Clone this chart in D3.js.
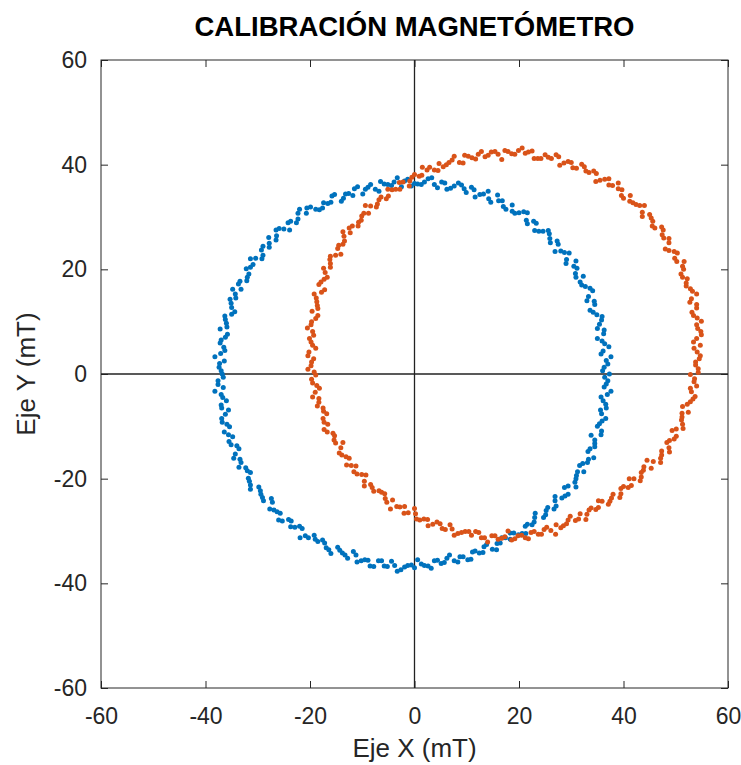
<!DOCTYPE html>
<html>
<head>
<meta charset="utf-8">
<title>Calibración magnetómetro</title>
<script src="https://d3js.org/d3.v7.min.js"></script>
<style>
	body { margin: 0; background: #fff; }
	text { font-family: 'Liberation Sans', Arial, sans-serif; }
</style>
</head>
<body>
<div id="chart"></div>
<script>
// ticks
var xTicks = [-60, -40, -20, 0, 20, 40, 60];
var yTicks = [-60, -40, -20, 0, 20, 40, 60];

// raw magnetometer readings (blue) - x, y in mT
var rawX = [37.3,36.3,36.7,35.7,37.2,35.9,36.2,35.0,35.8,34.9,33.6,34.4,33.3,33.6,32.0,32.3,30.8,30.5,29.0,29.6,28.0,27.5,26.0,25.8,24.6,23.0,22.8,21.4,20.9,19.2,18.7,17.0,16.1,14.6,14.1,12.5,11.4,9.9,9.0,7.6,6.2,5.2,3.8,2.6,1.3,
	0.0,-1.3,-2.5,-3.9,-5.1,-6.5,-7.5,-8.9,-9.9,-11.5,-12.6,-13.6,-15.3,-16.0,-17.4,-18.2,-19.9,-20.7,-22.3,-22.6,-24.2,-25.0,-26.5,-26.5,-27.8,-29.0,-29.0,-30.4,-30.9,-32.2,-32.0,-33.4,-33.2,-34.3,-35.3,-35.0,-35.0,-36.2,-35.9,-35.8,-37.0,-36.5,-37.1,-36.4,-37.4,
	-36.8,-37.6,-36.6,-37.0,-36.0,-36.9,-36.2,-36.8,-35.4,-35.6,-35.5,-34.0,-34.3,-33.4,-33.6,-32.0,-31.8,-31.4,-29.8,-29.4,-28.9,-27.2,-26.9,-25.7,-25.3,-23.6,-22.9,-21.5,-20.9,-19.2,-18.5,-17.2,-16.4,-14.7,-13.8,-12.8,-11.2,-10.2,-8.9,-7.8,-6.3,-5.2,-3.8,-2.6,-1.3,
	0.0,1.3,2.6,3.8,5.1,6.2,7.6,8.7,10.2,11.1,12.4,13.3,14.9,15.8,16.7,18.3,19.0,20.6,21.2,22.5,23.0,24.7,25.2,26.7,26.9,28.2,29.4,29.4,30.7,31.0,32.4,32.2,33.3,33.2,34.5,34.5,35.7,35.0,35.9,35.8,36.7,36.1,36.9,36.3,37.0];
var rawY = [0.0,1.3,2.6,3.8,5.2,6.3,7.7,8.7,10.3,11.3,12.2,13.9,14.8,16.4,17.0,18.7,19.2,20.6,21.1,23.1,23.5,24.8,25.1,26.8,27.3,27.4,29.2,29.4,31.0,30.7,32.3,32.0,33.1,32.8,34.9,34.3,35.2,34.7,36.1,35.9,35.3,36.7,36.2,37.3,36.2,
	36.4,37.2,35.8,36.7,36.2,36.8,35.3,35.7,34.4,35.4,34.5,33.6,34.3,32.8,32.7,31.4,31.9,30.7,30.7,28.9,28.9,27.7,27.5,25.6,25.0,24.4,22.7,22.1,20.9,20.1,18.5,17.7,16.2,15.3,14.3,12.7,11.4,10.4,9.0,7.6,6.5,5.1,3.9,2.5,1.3,
	0.0,-1.3,-2.6,-3.9,-5.1,-6.5,-7.7,-9.2,-10.1,-11.6,-12.9,-13.7,-15.3,-16.3,-17.8,-18.5,-19.9,-21.2,-21.6,-23.0,-24.2,-24.5,-26.0,-26.6,-28.1,-28.1,-29.3,-29.5,-30.9,-30.8,-32.0,-32.3,-33.6,-33.1,-34.2,-35.2,-34.6,-35.7,-35.6,-36.8,-35.7,-36.8,-36.6,-37.4,-36.6,
	-37.0,-36.3,-36.7,-35.7,-36.2,-35.2,-35.7,-34.9,-35.5,-34.0,-34.2,-33.0,-33.5,-32.4,-31.3,-31.6,-30.4,-30.5,-29.1,-28.8,-27.4,-27.4,-26.1,-25.8,-24.2,-23.7,-23.0,-21.4,-20.7,-19.4,-18.7,-17.1,-16.3,-14.8,-13.9,-12.6,-11.6,-10.0,-9.0,-7.6,-6.5,-5.1,-3.9,-2.5,-1.3];
// second batch of raw readings
var rawX2 = [36.0,37.0,37.6,36.1,36.4,35.0,36.3,35.4,35.9,34.2,34.5,33.0,34.1,32.7,31.7,30.9,31.1,30.9,29.1,28.7,26.9,27.3,25.9,25.6,23.8,23.3,21.6,21.6,20.0,18.7,17.5,16.8,15.9,14.2,13.2,11.6,10.9,9.5,8.4,6.9,5.8,4.4,3.3,1.9,0.6,
	-0.6,-1.9,-3.3,-4.4,-5.8,-6.8,-8.4,-9.4,-10.9,-11.8,-13.2,-14.0,-15.8,-16.6,-17.6,-18.9,-20.6,-22.0,-22.3,-23.7,-23.9,-25.9,-26.4,-27.9,-27.8,-29.3,-29.2,-31.4,-31.4,-31.7,-32.1,-33.7,-34.8,-34.2,-35.1,-34.4,-36.3,-36.0,-37.2,-36.2,-37.2,-36.3,-38.2,-37.3,-37.0,
	-36.6,-37.6,-38.2,-36.7,-37.0,-35.6,-36.9,-35.9,-36.4,-34.8,-35.1,-33.6,-34.6,-33.2,-32.3,-31.4,-31.6,-31.4,-29.5,-29.1,-27.4,-27.7,-26.3,-26.0,-24.1,-23.7,-22.0,-21.9,-20.3,-19.0,-17.6,-16.9,-16.0,-14.3,-13.3,-11.7,-11.0,-9.5,-8.5,-6.9,-5.8,-4.4,-3.3,-1.9,-0.6,
	0.6,1.9,3.2,4.4,5.7,6.7,8.3,9.3,10.8,11.6,13.1,13.8,15.7,16.4,17.4,18.3,19.9,21.3,21.6,22.9,23.1,25.1,25.5,27.1,26.9,28.8,28.7,30.9,30.9,31.2,31.6,33.1,34.3,33.6,34.5,33.8,35.8,35.4,36.6,35.6,36.6,35.7,37.6,36.7,36.4];
var rawY2 = [0.6,1.9,3.3,4.4,5.8,6.8,8.4,9.5,11.0,11.8,13.3,14.0,15.9,16.7,17.6,18.5,20.2,21.6,21.9,23.2,23.4,25.4,25.9,27.4,27.3,28.8,28.7,30.8,30.8,31.1,31.5,33.1,34.2,33.5,34.4,33.8,35.7,35.4,36.5,35.5,36.5,35.6,37.5,36.7,36.3,
	35.9,36.9,37.5,36.0,36.3,34.9,36.2,35.3,35.8,34.1,34.4,33.0,34.0,32.6,31.7,31.5,31.7,31.5,29.6,29.2,27.5,27.8,26.4,26.1,24.2,23.7,22.0,22.0,20.4,19.1,17.8,17.2,16.2,14.5,13.5,11.9,11.1,9.7,8.6,7.0,5.9,4.5,3.3,2.0,0.6,
	-0.6,-2.0,-3.3,-4.5,-5.9,-6.9,-8.5,-9.6,-11.1,-12.0,-13.5,-14.3,-16.1,-16.9,-17.9,-18.8,-20.5,-22.0,-22.3,-23.6,-23.8,-25.8,-26.3,-27.9,-27.8,-29.2,-29.1,-31.3,-31.3,-31.6,-31.7,-33.2,-34.3,-33.7,-34.6,-33.9,-35.9,-35.5,-36.7,-35.7,-36.7,-35.8,-37.7,-36.9,-36.5,
	-35.5,-36.6,-37.1,-35.6,-36.0,-34.6,-35.9,-34.9,-35.4,-33.8,-34.1,-32.6,-33.6,-32.3,-31.3,-30.4,-30.7,-30.5,-28.7,-28.3,-26.6,-26.9,-25.5,-25.2,-23.4,-23.3,-21.7,-21.6,-20.0,-18.7,-17.5,-16.9,-16.0,-14.3,-13.3,-11.7,-10.9,-9.5,-8.5,-6.9,-5.8,-4.4,-3.3,-1.9,-0.6];

// readings with hard-iron offset (orange)
var offX = [54.7,54.0,54.8,54.0,54.1,53.1,54.0,53.0,53.2,52.0,52.2,51.0,51.3,50.2,50.3,48.7,48.7,47.7,47.6,46.0,45.6,45.0,43.6,43.1,41.8,41.3,39.6,39.0,37.9,37.2,35.5,34.8,33.4,32.5,31.0,30.0,28.6,27.6,26.2,25.0,23.6,22.5,21.2,19.9,18.6,
	17.3,16.0,14.7,13.5,12.2,11.0,9.6,8.6,7.2,6.1,4.7,3.8,2.4,1.4,0.0,-0.9,-2.2,-2.8,-4.3,-5.0,-6.4,-7.1,-8.4,-8.8,-10.1,-10.7,-11.9,-12.3,-13.5,-13.7,-14.7,-15.1,-16.2,-16.1,-17.1,-17.3,-18.3,-17.8,-18.8,-18.6,-19.6,-18.9,-19.8,-19.5,-20.1,
	-19.5,-20.2,-19.3,-19.8,-19.2,-19.7,-18.7,-19.0,-18.3,-18.6,-17.4,-17.5,-16.6,-16.7,-15.3,-15.1,-14.1,-13.9,-12.5,-12.1,-11.6,-10.1,-9.6,-8.4,-7.8,-6.3,-5.6,-4.2,-3.4,-1.9,-1.2,0.2,1.0,2.5,3.5,4.9,5.9,7.2,8.3,9.7,10.9,12.3,13.4,14.8,16.0,
	17.3,18.6,19.8,21.2,22.3,23.7,24.8,26.1,27.1,28.5,29.4,30.8,31.7,33.0,33.8,35.2,35.9,37.4,38.0,39.5,40.0,41.5,42.0,43.4,43.8,45.3,45.7,47.1,47.3,48.7,48.8,50.1,50.1,51.3,51.2,52.4,52.2,53.3,53.0,54.0,53.6,54.3,53.8,54.5,54.1];
var offY = [5.5,6.8,8.1,9.4,10.7,11.8,13.3,14.4,15.8,16.8,18.2,19.1,20.6,21.5,23.1,23.6,25.1,26.0,27.5,27.9,29.2,30.5,30.9,32.2,32.7,34.1,34.1,35.4,36.0,37.3,37.0,38.3,38.5,39.6,39.3,40.4,40.3,41.5,41.2,41.9,41.2,42.6,42.2,42.7,42.1,
	42.7,42.0,42.4,41.5,42.0,41.3,41.8,40.4,40.9,40.0,40.2,39.0,39.0,38.0,38.1,36.9,36.7,35.3,35.2,34.0,33.8,32.5,32.1,30.7,30.2,29.0,28.3,27.0,26.3,24.8,24.0,22.7,21.9,20.4,19.4,18.1,17.1,15.6,14.5,13.1,12.0,10.6,9.4,8.1,6.8,
	5.5,4.2,2.9,1.6,0.4,-1.0,-2.2,-3.5,-4.7,-6.1,-7.1,-8.5,-9.6,-11.1,-11.8,-13.2,-14.1,-15.5,-16.1,-17.5,-18.7,-19.2,-20.5,-21.1,-22.4,-22.6,-23.8,-24.1,-25.3,-25.3,-26.5,-26.7,-27.9,-27.8,-28.7,-28.6,-29.7,-29.6,-30.5,-30.1,-30.8,-30.3,-31.3,-30.9,-31.6,
	-31.1,-31.7,-30.9,-31.3,-30.3,-30.6,-29.7,-29.9,-28.8,-29.0,-27.9,-28.0,-26.7,-26.8,-25.6,-25.5,-24.3,-24.3,-23.0,-22.9,-21.5,-21.3,-20.0,-19.7,-18.4,-18.0,-16.7,-16.1,-14.7,-14.1,-12.7,-11.9,-10.5,-9.6,-8.2,-7.3,-5.8,-4.8,-3.4,-2.3,-0.9,0.3,1.7,2.9,4.2];
// second batch of offset readings
var offX2 = [53.4,54.9,54.2,54.9,53.4,54.0,52.7,54.0,52.8,52.0,51.3,51.5,51.6,49.8,49.7,48.0,48.7,47.4,47.3,45.5,45.3,43.6,44.0,42.4,41.2,40.0,39.7,39.0,37.2,36.4,34.7,34.3,32.8,32.0,30.3,29.4,27.8,27.1,25.6,24.2,22.9,21.8,20.6,19.2,17.9,
	16.7,15.4,14.1,12.8,11.7,10.3,9.3,7.6,6.6,5.5,4.5,2.9,1.5,0.9,-0.5,-1.0,-2.9,-3.6,-5.1,-5.4,-6.8,-7.3,-9.4,-9.7,-10.2,-10.8,-12.5,-13.7,-13.4,-14.5,-14.1,-16.1,-16.1,-17.4,-16.7,-17.9,-17.2,-19.2,-18.7,-18.5,-18.5,-19.7,-20.5,-19.3,-19.8,
	-18.9,-20.4,-19.7,-20.4,-18.9,-19.5,-18.2,-19.5,-18.3,-17.5,-16.8,-17.3,-17.3,-15.6,-15.4,-13.7,-14.4,-13.1,-13.0,-11.2,-11.0,-9.3,-9.6,-8.1,-6.8,-5.7,-5.3,-4.6,-2.8,-2.0,0.0,0.4,1.8,2.6,4.3,5.3,6.8,7.6,9.0,10.4,11.7,12.8,14.0,15.4,16.7,
	17.9,19.2,20.5,21.8,22.9,24.3,25.3,27.0,28.0,29.1,29.8,31.4,32.8,33.4,34.7,35.2,37.1,37.7,39.3,39.5,40.9,41.1,43.2,43.4,43.9,44.5,47.1,47.3,48.8,48.3,49.7,49.3,51.4,51.1,51.2,51.3,52.8,53.7,52.8,53.5,52.8,54.3,53.8,54.7,53.5];
var offY2 = [6.1,7.5,8.7,10.1,11.2,12.6,13.7,15.3,16.3,17.4,18.5,20.0,21.5,22.1,23.4,23.9,25.9,26.6,28.1,28.3,29.8,30.1,32.2,32.4,33.0,33.6,35.2,36.5,36.1,37.2,36.8,38.8,38.8,40.1,39.4,40.6,39.9,41.9,41.4,41.2,41.2,42.4,43.2,42.0,42.5,
	41.0,42.5,41.8,42.5,41.1,41.6,40.3,41.6,40.4,39.6,38.9,39.5,39.5,37.8,37.6,35.9,36.6,35.3,35.3,33.5,33.3,31.9,32.2,30.7,29.4,28.3,27.9,27.2,25.4,24.6,22.9,22.5,21.1,20.2,18.5,17.6,16.1,15.3,13.8,12.5,11.2,10.0,8.8,7.4,6.1,
	4.9,3.5,2.3,0.9,-0.2,-1.7,-2.7,-4.4,-5.4,-6.5,-7.6,-9.2,-10.6,-11.3,-12.6,-13.1,-15.1,-15.8,-17.4,-17.6,-19.1,-19.3,-21.4,-21.7,-22.3,-22.9,-24.5,-25.8,-25.4,-26.6,-25.7,-27.7,-27.7,-29.0,-28.3,-29.5,-28.8,-30.8,-30.3,-30.1,-30.1,-31.3,-32.1,-30.9,-31.4,
	-30.0,-31.5,-30.8,-31.5,-30.1,-30.6,-29.3,-30.6,-29.4,-28.6,-27.2,-27.7,-27.8,-26.0,-25.9,-24.2,-24.9,-23.7,-23.6,-21.9,-21.7,-20.0,-20.4,-18.8,-17.7,-16.5,-16.9,-15.5,-14.9,-13.1,-12.4,-10.8,-10.4,-8.8,-7.5,-6.2,-5.3,-4.3,-2.7,-1.5,-0.1,1.0,2.3,3.5,4.9];

var width = 741, height = 765;
var mLeft = 101, mRight = 728, mTop = 60, mBottom = 688;

var svg = d3.select("#chart").append("svg")
	.attr("width", width)
	.attr("height", height);

var x = d3.scaleLinear().domain([-60, 60]).range([mLeft, mRight]);
var y = d3.scaleLinear().domain([-60, 60]).range([mBottom, mTop]);

// plain hyphen for negative numbers, like the original
var fmt = function(d) { return String(d); };

function styleAxis(g) {
	g.select(".domain").remove();
	g.selectAll(".tick line").attr("stroke", "#262626");
	g.selectAll(".tick text").attr("font-size", 23).attr("fill", "#262626");
}

// ticks pointing inwards on all four sides
svg.append("g").attr("transform", "translate(0," + mBottom + ")")
	.call(d3.axisBottom(x).tickValues(xTicks).tickSizeInner(-7).tickSizeOuter(0).tickPadding(20).tickFormat(fmt))
	.call(styleAxis);
svg.append("g").attr("transform", "translate(" + mLeft + ",0)")
	.call(d3.axisLeft(y).tickValues(yTicks).tickSizeInner(-7).tickSizeOuter(0).tickPadding(14).tickFormat(fmt))
	.call(styleAxis);
svg.append("g").attr("transform", "translate(0," + mTop + ")")
	.call(d3.axisTop(x).tickValues(xTicks).tickSizeInner(-7).tickSizeOuter(0).tickFormat(""))
	.call(styleAxis);
svg.append("g").attr("transform", "translate(" + mRight + ",0)")
	.call(d3.axisRight(y).tickValues(yTicks).tickSizeInner(-7).tickSizeOuter(0).tickFormat(""))
	.call(styleAxis);

// box
svg.append("rect")
	.attr("x", mLeft).attr("y", mTop)
	.attr("width", mRight - mLeft).attr("height", mBottom - mTop)
	.attr("fill", "none").attr("stroke", "#262626").attr("stroke-width", 1);

// zero lines
svg.append("line").attr("x1", x(0)).attr("x2", x(0)).attr("y1", mTop).attr("y2", mBottom)
	.attr("stroke", "#222").attr("stroke-width", 1.3);
svg.append("line").attr("x1", mLeft).attr("x2", mRight).attr("y1", y(0)).attr("y2", y(0))
	.attr("stroke", "#222").attr("stroke-width", 1.3);

var raw = d3.zip(rawX.concat(rawX2), rawY.concat(rawY2));
var off = d3.zip(offX.concat(offX2), offY.concat(offY2));

function drawPoints(data, color) {
	svg.append("g").selectAll("circle")
		.data(data).enter().append("circle")
		.attr("cx", function(d) { return x(d[0]); })
		.attr("cy", function(d) { return y(d[1]); })
		.attr("r", 2.5)
		.attr("fill", color);
}
drawPoints(raw, "#0072BD");
drawPoints(off, "#D95319");

// title and labels
svg.append("text")
	.attr("x", (mLeft + mRight) / 2).attr("y", 36)
	.attr("text-anchor", "middle")
	.attr("font-size", 27.5).attr("font-weight", "bold")
	.text("CALIBRACIÓN MAGNETÓMETRO");

svg.append("text")
	.attr("x", (mLeft + mRight) / 2).attr("y", 757)
	.attr("text-anchor", "middle")
	.attr("font-size", 26).attr("fill", "#262626")
	.text("Eje X (mT)");

svg.append("text")
	.attr("transform", "translate(35," + y(0) + ") rotate(-90)")
	.attr("text-anchor", "middle")
	.attr("font-size", 26).attr("fill", "#262626")
	.text("Eje Y (mT)");
</script>
</body>
</html>
